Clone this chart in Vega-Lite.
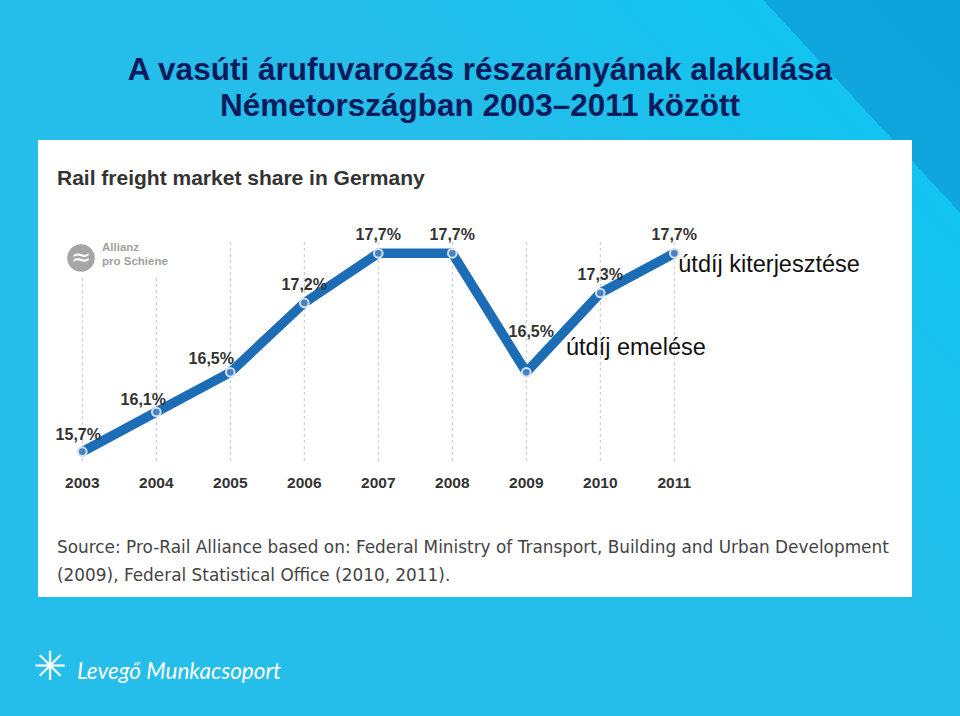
{
  "$schema": "https://vega.github.io/schema/vega-lite/v6.json",
  "width": 960,
  "height": 716,
  "autosize": {"type": "fit", "contains": "padding"},
  "padding": 0,
  "background": "#1dc0ec",
  "config": {
    "view": {"stroke": null},
    "locale": {"number": {"decimal": ",", "thousands": ".", "grouping": [3], "currency": ["", ""]}}
  },
  "data": {"values": [
    {"year": 2003, "share": 0.157},
    {"year": 2004, "share": 0.161},
    {"year": 2005, "share": 0.165},
    {"year": 2006, "share": 0.172},
    {"year": 2007, "share": 0.177},
    {"year": 2008, "share": 0.177},
    {"year": 2009, "share": 0.165},
    {"year": 2010, "share": 0.173},
    {"year": 2011, "share": 0.177}
  ]},
  "encoding": {
    "x": {"field": "year", "type": "quantitative", "scale": {"domain": [2001.8878, 2014.8608], "nice": false, "zero": false}, "axis": null},
    "y": {"field": "share", "type": "quantitative", "scale": {"domain": [0.130357, 0.202534], "nice": false, "zero": false}, "axis": null}
  },
  "layer": [
    {
      "transform": [{"filter": "datum.year == 2003"}],
      "mark": {"type": "rect", "fill": {"gradient": "linear", "x1": 0.498, "y1": 0.205, "x2": 1.092, "y2": -0.205,
        "stops": [{"offset": 0, "color": "#25bde9"}, {"offset": 0.5, "color": "#12c4f0"}, {"offset": 0.5, "color": "#0ea6dc"}, {"offset": 1, "color": "#0a9fd8"}]}},
      "encoding": {
        "x": {"datum": 2001.8878, "type": "quantitative"},
        "x2": {"datum": 2014.8608},
        "y": {"datum": 0.130357, "type": "quantitative"},
        "y2": {"datum": 0.202534}
      }
    },
    {
      "transform": [{"filter": "datum.year == 2003"}],
      "mark": {"type": "rect", "fill": "#ffffff"},
      "encoding": {
        "x": {"datum": 2002.4013, "type": "quantitative"},
        "x2": {"datum": 2014.2121},
        "y": {"datum": 0.142353, "type": "quantitative"},
        "y2": {"datum": 0.188422}
      }
    },
    {
      "mark": {"type": "rule", "color": "#c4c4c4", "strokeWidth": 1, "strokeDash": [3, 3]},
      "encoding": {
        "y": {"datum": 0.178139, "type": "quantitative"},
        "y2": {"datum": 0.155861}
      }
    },
    {
      "transform": [{"filter": "datum.year == 2003"}],
      "mark": {"type": "rect", "fill": "#ffffff"},
      "encoding": {
        "x": {"datum": 2002.6986, "type": "quantitative"},
        "x2": {"datum": 2004.2121},
        "y": {"datum": 0.178341, "type": "quantitative"},
        "y2": {"datum": 0.174813}
      }
    },
    {
      "transform": [{"filter": "datum.year == 2003"}],
      "mark": {"type": "point", "shape": "circle", "filled": true, "size": 760, "color": "#a6a6a6", "opacity": 1},
      "encoding": {
        "x": {"datum": 2002.9824, "type": "quantitative"},
        "y": {"datum": 0.176526, "type": "quantitative"}
      }
    },
    {
      "transform": [{"filter": "datum.year == 2003"}],
      "mark": {"type": "text", "text": "≈", "font": "DejaVu Sans", "fontSize": 24, "color": "#ffffff", "align": "center", "baseline": "middle"},
      "encoding": {
        "x": {"datum": 2002.9824, "type": "quantitative"},
        "y": {"datum": 0.176526, "type": "quantitative"}
      }
    },
    {
      "transform": [{"filter": "datum.year == 2003"}],
      "mark": {"type": "text", "text": "Allianz", "font": "Liberation Sans", "fontWeight": "bold", "fontSize": 11.5, "color": "#a0a0a0", "align": "left", "baseline": "alphabetic"},
      "encoding": {
        "x": {"datum": 2003.2662, "type": "quantitative"},
        "y": {"datum": 0.177232, "type": "quantitative"}
      }
    },
    {
      "transform": [{"filter": "datum.year == 2003"}],
      "mark": {"type": "text", "text": "pro Schiene", "font": "Liberation Sans", "fontWeight": "bold", "fontSize": 11.5, "color": "#a0a0a0", "align": "left", "baseline": "alphabetic"},
      "encoding": {
        "x": {"datum": 2003.2662, "type": "quantitative"},
        "y": {"datum": 0.175821, "type": "quantitative"}
      }
    },
    {
      "mark": {"type": "line", "color": "#1c6db6", "strokeWidth": 9.5, "strokeJoin": "round", "strokeCap": "round"}
    },
    {
      "mark": {"type": "point", "shape": "circle", "filled": true, "size": 75, "fill": "#4a82c0", "stroke": "#cfe1f3", "strokeWidth": 2, "opacity": 1}
    },
    {
      "transform": [{"filter": {"field": "year", "oneOf": [2006, 2007, 2008, 2010, 2011]}}],
      "mark": {"type": "text", "font": "Liberation Sans", "fontWeight": "bold", "fontSize": 16, "color": "#333333", "align": "center", "baseline": "alphabetic", "dy": -13},
      "encoding": {"text": {"field": "share", "type": "quantitative", "format": ".1%"}}
    },
    {
      "transform": [{"filter": {"field": "year", "oneOf": [2003]}}],
      "mark": {"type": "text", "font": "Liberation Sans", "fontWeight": "bold", "fontSize": 16, "color": "#333333", "align": "center", "baseline": "alphabetic", "dx": -4, "dy": -12},
      "encoding": {"text": {"field": "share", "type": "quantitative", "format": ".1%"}}
    },
    {
      "transform": [{"filter": {"field": "year", "oneOf": [2004]}}],
      "mark": {"type": "text", "font": "Liberation Sans", "fontWeight": "bold", "fontSize": 16, "color": "#333333", "align": "center", "baseline": "alphabetic", "dx": -13, "dy": -7},
      "encoding": {"text": {"field": "share", "type": "quantitative", "format": ".1%"}}
    },
    {
      "transform": [{"filter": {"field": "year", "oneOf": [2005]}}],
      "mark": {"type": "text", "font": "Liberation Sans", "fontWeight": "bold", "fontSize": 16, "color": "#333333", "align": "center", "baseline": "alphabetic", "dx": -19, "dy": -8},
      "encoding": {"text": {"field": "share", "type": "quantitative", "format": ".1%"}}
    },
    {
      "transform": [{"filter": {"field": "year", "oneOf": [2009]}}],
      "mark": {"type": "text", "font": "Liberation Sans", "fontWeight": "bold", "fontSize": 16, "color": "#333333", "align": "center", "baseline": "alphabetic", "dx": 5, "dy": -35},
      "encoding": {"text": {"field": "share", "type": "quantitative", "format": ".1%"}}
    },
    {
      "mark": {"type": "text", "font": "Liberation Sans", "fontWeight": "bold", "fontSize": 15.5, "color": "#333333", "align": "center", "baseline": "alphabetic"},
      "encoding": {
        "y": {"datum": 0.153341, "type": "quantitative"},
        "text": {"field": "year", "type": "quantitative", "format": "d"}
      }
    },
    {
      "transform": [{"filter": "datum.year == 2003"}],
      "mark": {"type": "text", "text": "útdíj kiterjesztése", "font": "Liberation Sans", "fontSize": 23.5, "color": "#111111", "align": "left", "baseline": "alphabetic"},
      "encoding": {
        "x": {"datum": 2011.054, "type": "quantitative"},
        "y": {"datum": 0.175145, "type": "quantitative"}
      }
    },
    {
      "transform": [{"filter": "datum.year == 2003"}],
      "mark": {"type": "text", "text": "útdíj emelése", "font": "Liberation Sans", "fontSize": 23.5, "color": "#111111", "align": "left", "baseline": "alphabetic"},
      "encoding": {
        "x": {"datum": 2009.5364, "type": "quantitative"},
        "y": {"datum": 0.166748, "type": "quantitative"}
      }
    },
    {
      "transform": [{"filter": "datum.year == 2003"}],
      "mark": {"type": "text", "text": "A vasúti árufuvarozás részarányának alakulása", "font": "Liberation Sans", "fontWeight": "bold", "fontSize": 31.5, "color": "#0c1b5b", "align": "center", "baseline": "alphabetic"},
      "encoding": {
        "x": {"datum": 2008.3743, "type": "quantitative"},
        "y": {"datum": 0.19447, "type": "quantitative"}
      }
    },
    {
      "transform": [{"filter": "datum.year == 2003"}],
      "mark": {"type": "text", "text": "Németországban 2003–2011 között", "font": "Liberation Sans", "fontWeight": "bold", "fontSize": 31.5, "color": "#0c1b5b", "align": "center", "baseline": "alphabetic"},
      "encoding": {
        "x": {"datum": 2008.3743, "type": "quantitative"},
        "y": {"datum": 0.190841, "type": "quantitative"}
      }
    },
    {
      "transform": [{"filter": "datum.year == 2003"}],
      "mark": {"type": "text", "text": "Rail freight market share in Germany", "font": "Liberation Sans", "fontWeight": "bold", "fontSize": 21, "color": "#333333", "align": "left", "baseline": "alphabetic"},
      "encoding": {
        "x": {"datum": 2002.6581, "type": "quantitative"},
        "y": {"datum": 0.183885, "type": "quantitative"}
      }
    },
    {
      "transform": [{"filter": "datum.year == 2003"}],
      "mark": {"type": "text", "text": "Source: Pro-Rail Alliance based on: Federal Ministry of Transport, Building and Urban Development", "font": "DejaVu Sans", "fontSize": 16.9, "color": "#444444", "align": "left", "baseline": "alphabetic"},
      "encoding": {
        "x": {"datum": 2002.6581, "type": "quantitative"},
        "y": {"datum": 0.146758, "type": "quantitative"}
      }
    },
    {
      "transform": [{"filter": "datum.year == 2003"}],
      "mark": {"type": "text", "text": "(2009), Federal Statistical Office (2010, 2011).", "font": "DejaVu Sans", "fontSize": 16.9, "color": "#444444", "align": "left", "baseline": "alphabetic"},
      "encoding": {
        "x": {"datum": 2002.6581, "type": "quantitative"},
        "y": {"datum": 0.143996, "type": "quantitative"}
      }
    },
    {
      "transform": [{"filter": "datum.year == 2003"}],
      "mark": {"type": "text", "text": "✳", "font": "DejaVu Sans", "fontSize": 40, "color": "#ffffff", "align": "center", "baseline": "middle"},
      "encoding": {
        "x": {"datum": 2002.5635, "type": "quantitative"},
        "y": {"datum": 0.135196, "type": "quantitative"}
      }
    },
    {
      "transform": [{"filter": "datum.year == 2003"}],
      "mark": {"type": "text", "text": "Levegő Munkacsoport", "font": "Lato", "fontStyle": "italic", "fontWeight": 400, "fontSize": 22.5, "color": "#ffffff", "align": "left", "baseline": "alphabetic"},
      "encoding": {
        "x": {"datum": 2002.9283, "type": "quantitative"},
        "y": {"datum": 0.134087, "type": "quantitative"}
      }
    }
  ]
}
